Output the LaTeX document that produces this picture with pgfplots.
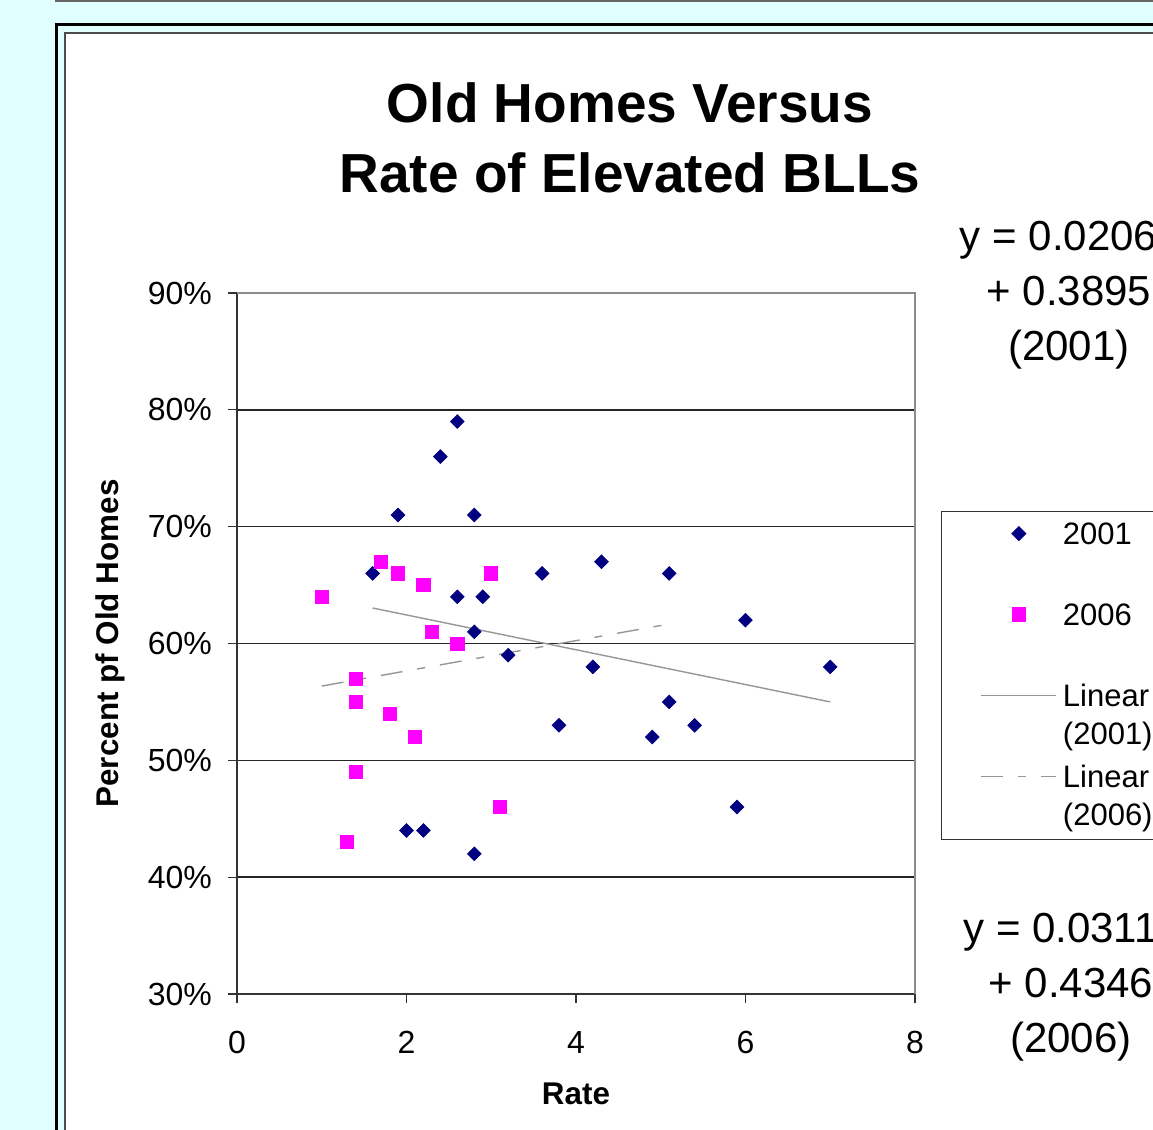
\documentclass[border=0pt]{standalone}
\usepackage{pgfplots}
\pgfplotsset{compat=1.18}
\usepackage{fontspec}
\setmainfont{Liberation Sans}
\definecolor{bgcyan}{HTML}{E0FFFF}
\definecolor{navyc}{HTML}{000080}
\definecolor{magc}{HTML}{FF00FF}
\definecolor{trendc}{HTML}{969696}

\pgfplotstableread{
x y
1.6 66
1.9 71
2.0 44
2.2 44
2.4 76
2.6 79
2.6 64
2.8 71
2.8 61
2.8 42
2.9 64
3.2 59
3.6 66
3.8 53
4.2 58
4.3 67
4.9 52
5.1 66
5.1 55
5.4 53
5.9 46
6.0 62
7.0 58
}\dataA

\pgfplotstableread{
x y
1.0 64
1.3 43
1.4 57
1.4 55
1.4 49
1.7 67
1.8 54
1.9 66
2.1 52
2.2 65
2.3 61
2.6 60
3.0 66
3.1 46
}\dataB

\begin{document}
\begin{tikzpicture}
\useasboundingbox (0,0) rectangle (576.5pt,-565pt);
\clip (0,0) rectangle (576.5pt,-565pt);
\begin{scope}[x=0.5pt,y=-0.5pt]
\fill[bgcyan] (0,0) rectangle (1153,1130);
\draw[black!60, line width=1pt] (55,1) -- (1160,1);
\fill[white] (65,33) rectangle (1170,1150);
\draw[black, line width=1.5pt] (56,24) rectangle (1180,1160);
\draw[black!70, line width=1.1pt] (65,33) rectangle (1180,1160);
\node[align=center, font=\fontsize{27.5}{35}\selectfont\bfseries] at (630,138) {Old Homes Versus\\Rate of Elevated BLLs};
\node[align=center, font=\fontsize{21}{27.5}\selectfont] at (1069,295) {y = 0.0206x\\+ 0.3895\\(2001)};
\node[align=center, font=\fontsize{21}{27.5}\selectfont] at (1071,987) {y = 0.0311x\\+ 0.4346\\(2006)};
\end{scope}
\begin{axis}[
  at={(118.5pt,-497pt)}, anchor=south west,
  scale only axis, width=339pt, height=350.5pt,
  xmin=0, xmax=8, ymin=30, ymax=90,
  xtick={0,2,4,6,8}, xticklabels={0,2,4,6,8},
  ytick={30,40,50,60,70,80,90},
  yticklabels={30\%,40\%,50\%,60\%,70\%,80\%,90\%},
  axis x line*=bottom, axis y line*=left,
  axis line style={black!80, line width=0.8pt},
  tick align=outside, major tick length=4.5pt,
  tick style={black!80, line width=0.6pt},
  ymajorgrids, grid style={black!85, line width=0.7pt},
  tick label style={font=\fontsize{16}{19}\selectfont},
  xticklabel style={yshift=-10.5pt},
  yticklabel style={xshift=-4.5pt},
  xlabel={Rate}, ylabel={Percent pf Old Homes},
  every axis x label/.style={at={(axis description cs:0.5,0)}, anchor=center, yshift=-50pt, font=\fontsize{15.7}{19}\selectfont\bfseries},
  every axis y label/.style={at={(axis description cs:0,0.5)}, xshift=-63.5pt, rotate=90, anchor=center, font=\fontsize{15.7}{19}\selectfont\bfseries},
  clip=false,
  legend image code/.code={\draw[mark repeat=2,mark phase=2,#1] plot coordinates {(0pt,5.5pt) (18.75pt,5.5pt) (37.5pt,5.5pt)};},
  legend style={at={(axis description cs:1,0.689)}, anchor=north west, xshift=13pt,
    draw=black!80, line width=0.6pt, inner xsep=19.5pt, inner ysep=1pt,
    row sep=0pt, column sep=3pt,
    font=\fontsize{15.5}{19}\selectfont,
    cells={anchor=base west},
    nodes={inner xsep=0pt, inner ysep=0pt, text height=15.5pt, text depth=25pt}},
]
\addplot[only marks, mark=square*, mark size=2.4pt, mark options={rotate=45, fill=navyc, draw=navyc}] table[x=x,y=y] {\dataA};
\addlegendentry{2001}
\addplot[only marks, mark=square*, mark size=3.3pt, mark options={fill=magc, draw=magc}] table[x=x,y=y] {\dataB};
\addlegendentry{2006}
\addplot[trendc, line width=0.7pt, no marks] coordinates {(1.6,63.04) (7.0,55.0)};
\addlegendentry{\vtop{\hbox{Linear}\hbox{(2001)}}}
\addplot[trendc, line width=0.7pt, no marks, dash pattern=on 11pt off 7.5pt on 4pt off 7.5pt] coordinates {(1.0,56.36) (5.1,61.67)};
\addlegendentry{\vtop{\hbox{Linear}\hbox{(2006)}}}
\draw[black!45, line width=1.2pt] (rel axis cs:0,1) -- (rel axis cs:1,1) -- (rel axis cs:1,0);
\end{axis}
\end{tikzpicture}
\end{document}
